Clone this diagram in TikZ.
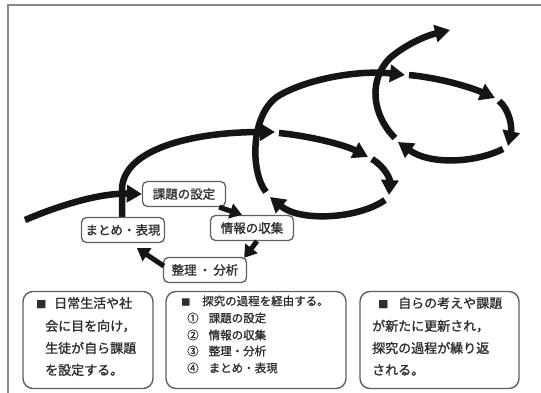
\documentclass[tikz,border=0pt]{standalone}
\usepackage{fontspec}
\newfontfamily\jp[FakeBold=1.2]{Noto Sans CJK JP}
\usetikzlibrary{arrows.meta}
\definecolor{ink}{HTML}{151515}
\definecolor{txt}{HTML}{2E2E2E}
\definecolor{edge}{HTML}{606060}
\definecolor{framecol}{HTML}{8A8A8A}
\tikzset{
  spiral/.style={line width=6.5pt, draw=ink, -{Triangle[length=15pt,width=17pt]}},
  flowarrow/.style={line width=5pt, draw=ink, -{Triangle[length=12pt,width=15pt]}},
  fbox/.style={draw=edge, line width=1.3pt, rounded corners=5pt, fill=white,
    minimum width=83pt, minimum height=25pt, inner sep=0pt,
    font=\jp\fontsize{12.5}{13}\selectfont, text=txt},
  tbox/.style={draw=edge, line width=1.4pt, rounded corners=10pt, fill=white, inner sep=0pt},
  tline/.style={anchor=west, inner sep=0pt, font=\jp\fontsize{13}{13}\selectfont, text=txt},
  bline/.style={anchor=west, inner sep=0pt, font=\jp\fontsize{11.5}{12}\selectfont, text=txt},
}
\begin{document}
\begin{tikzpicture}[x=1pt,y=-1pt]
\useasboundingbox (0,0) rectangle (541,393);
\fill[white] (0,0) rectangle (541,393);
% frame
\draw[framecol, line width=1.5pt] (8,393) -- (8,5) -- (541,5);

% spiral segments
\coordinate (s0) at (25,220);
\coordinate (m1) at (122,219);
\coordinate (a1) at (275,132);
\coordinate (b0) at (279,133);
\coordinate (b1) at (368,157);
\coordinate (c0) at (372,159);
\coordinate (c1) at (389,195);
\coordinate (d0) at (385,200);
\coordinate (d1) at (270,197);
\coordinate (e0) at (266,192);
\coordinate (e1) at (405,75);
\coordinate (f0) at (409,75);
\coordinate (f1) at (495,98);
\coordinate (g0) at (499,101);
\coordinate (g1) at (508,146);
\coordinate (h0) at (503,149);
\coordinate (h1) at (398,142);
\coordinate (k0) at (395,138);
\coordinate (k1) at (450,30);

\draw[spiral] (m1) -- (122,190) .. controls (122,150) and (190,132) .. (a1);
\draw[spiral] (b0) .. controls (310,136) and (345,145) .. (b1);
\draw[spiral] (c0) .. controls (385,167) and (390,179) .. (c1);
\draw[spiral] (d0) .. controls (358,219) and (300,222) .. (d1);
\draw[spiral] (e0) .. controls (250,172) and (250,112) .. (280,95) .. controls (310,78) and (360,70) .. (e1);
\draw[spiral] (f0) .. controls (440,78) and (470,87) .. (f1);
\draw[spiral] (g0) .. controls (510,110) and (512,128) .. (g1);
\draw[spiral] (h0) .. controls (475,163) and (430,165) .. (h1);
\draw[spiral] (k0) .. controls (372,115) and (368,80) .. (390,58) .. controls (405,45) and (425,36) .. (k1);

% process boxes
\node[fbox] (kadai) at (184,194) {課題の設定};
\node[fbox] (joho) at (252,228) {情報の収集};
\node[fbox] (matome) at (123,230) {まとめ・表現};
\node[fbox] (seiri) at (205,270) {整理\,・\,分析};

\draw[spiral] (s0) .. controls (60,205) and (100,193) .. (kadai.west);
\draw[flowarrow] ([xshift=-7pt]kadai.south east) -- ([xshift=-10pt]joho.north);
\draw[flowarrow] ([xshift=5pt]joho.south) -- ([xshift=-3pt,yshift=-1pt]seiri.north east);
\draw[flowarrow] ([xshift=1pt,yshift=4pt]seiri.west) -- ([xshift=14pt,yshift=-5pt]matome.south);

% bottom boxes
\node[tbox, minimum width=130pt, minimum height=97pt] (boxA) at (88,340) {};
\node[tbox, minimum width=180pt, minimum height=97pt] (boxB) at (256,340) {};
\node[tbox, minimum width=159pt, minimum height=97pt] (boxC) at (439.5,340) {};

\node[tline] (a1t) at (36,303) {{\fontsize{10}{10}\selectfont ■}\hspace{8pt}日常生活や社};
\node[tline] (a2t) at (45,326) {会に目を向け，};
\node[tline] (a3t) at (45,348) {生徒が自ら課題};
\node[tline] (a4t) at (45,370) {を設定する。};

\node[bline] (b1t) at (181,301) {{\fontsize{9}{9}\selectfont ■}\hspace{12pt}探究の過程を経由する。};
\node[bline] (b2t) at (187,318) {①\hspace{10pt}課題の設定};
\node[bline] (b3t) at (187,335) {②\hspace{10pt}情報の収集};
\node[bline] (b4t) at (187,351) {③\hspace{10pt}整理・分析};
\node[bline] (b5t) at (187,368) {④\hspace{10pt}まとめ・表現};

\node[tline] (c1t) at (378,303) {{\fontsize{10}{10}\selectfont ■}\hspace{10pt}自らの考えや課題};
\node[tline] (c2t) at (372,326) {が新たに更新され，};
\node[tline] (c3t) at (372,348) {探究の過程が繰り返};
\node[tline] (c4t) at (372,370) {される。};
\end{tikzpicture}
\end{document}
